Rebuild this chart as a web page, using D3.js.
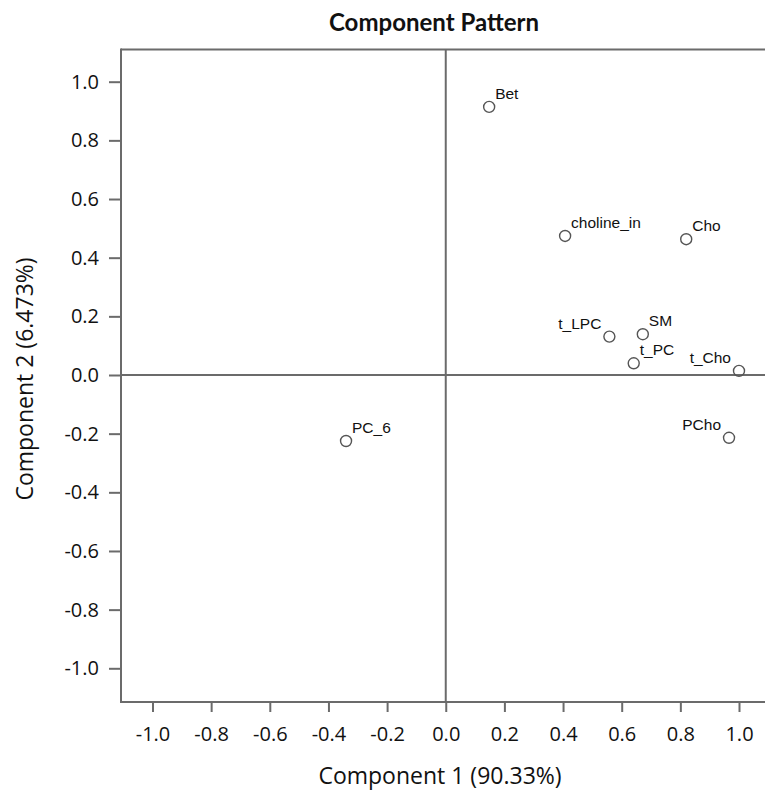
<!DOCTYPE html>
<html><head><meta charset="utf-8">
<script src="https://cdn.jsdelivr.net/npm/d3@7"></script>
<style>body{margin:0;background:#fff}svg{display:block}</style>
</head><body><div id="chart"></div>
<script>
const names = ["Bet","choline_in","Cho","t_LPC","SM","t_PC","t_Cho","PCho","PC_6"];
const comp1 = [0.148,0.407,0.820,0.558,0.672,0.641,1.000,0.966,-0.340];
const comp2 = [0.914,0.474,0.463,0.131,0.139,0.040,0.014,-0.214,-0.225];
const labelSide = ["right","right","right","left","right","right","left","left","right"];
const tickValues = [-1.0,-0.8,-0.6,-0.4,-0.2,0.0,0.2,0.4,0.6,0.8,1.0];

(function(){
const W = 765, H = 792;
const svg = d3.select("#chart").append("svg").attr("width", W).attr("height", H);
const x = d3.scaleLinear().domain([-1, 1]).range([152.5, 739]);
const y = d3.scaleLinear().domain([-1, 1]).range([668.3, 81.7]);
const pLeft = 121, pTop = 49.5, pBottom = 702, pRight = W + 5;
const col = "#6b6b6b";

svg.append("line").attr("x1", pLeft).attr("x2", pRight).attr("y1", pTop).attr("y2", pTop)
  .attr("stroke", col).attr("stroke-width", 2);
svg.append("line").attr("x1", x(0)).attr("x2", x(0)).attr("y1", pTop).attr("y2", pBottom)
  .attr("stroke", col).attr("stroke-width", 2);
svg.append("line").attr("x1", pLeft).attr("x2", pRight).attr("y1", y(0)).attr("y2", y(0))
  .attr("stroke", col).attr("stroke-width", 2);

const fmt = v => d3.format(".1f")(v).replace("\u2212", "-");
const xAxis = svg.append("g").attr("transform", `translate(0,${pBottom})`)
  .call(d3.axisBottom(x).tickValues(tickValues).tickFormat(fmt).tickSize(10).tickSizeOuter(0).tickPadding(15));
const yAxis = svg.append("g").attr("transform", `translate(${pLeft},0)`)
  .call(d3.axisLeft(y).tickValues(tickValues).tickFormat(fmt).tickSize(12).tickSizeOuter(0).tickPadding(10));
[xAxis, yAxis].forEach(g => {
  g.select(".domain").remove();
  g.selectAll(".tick line").attr("stroke", col).attr("stroke-width", 2);
  g.selectAll(".tick text").attr("fill", "#111").style("font-family", "'Open Sans', sans-serif").style("font-size", "20px");
});
svg.append("line").attr("x1", pLeft).attr("x2", pRight).attr("y1", pBottom).attr("y2", pBottom)
  .attr("stroke", col).attr("stroke-width", 2);
svg.append("line").attr("x1", pLeft).attr("x2", pLeft).attr("y1", pTop - 1).attr("y2", pBottom + 1)
  .attr("stroke", col).attr("stroke-width", 2);

svg.append("text").attr("x", 434).attr("y", 31).attr("text-anchor", "middle")
  .style("font-family", "Lato, sans-serif").style("font-weight", "bold").style("font-size", "24px")
  .attr("fill", "#111").text("Component Pattern");
svg.append("text").attr("x", 440).attr("y", 784).attr("text-anchor", "middle")
  .style("font-family", "'Open Sans', sans-serif").style("font-size", "23px")
  .attr("fill", "#111").text("Component 1 (90.33%)");
svg.append("text").attr("transform", "translate(33,379) rotate(-90)").attr("text-anchor", "middle")
  .style("font-family", "'Open Sans', sans-serif").style("font-size", "23px")
  .attr("fill", "#111").text("Component 2 (6.473%)");

const data = names.map((n, i) => ({name: n, c1: comp1[i], c2: comp2[i], side: labelSide[i]}));
const pts = svg.append("g");
pts.selectAll("circle").data(data).join("circle")
  .attr("cx", d => x(d.c1)).attr("cy", d => y(d.c2)).attr("r", 5.5)
  .attr("fill", "none").attr("stroke", "#555").attr("stroke-width", 1.4);
pts.selectAll("text").data(data).join("text")
  .attr("x", d => d.side === "right" ? x(d.c1) + 6 : x(d.c1) - 8)
  .attr("y", d => y(d.c2) - 8)
  .attr("text-anchor", d => d.side === "right" ? "start" : "end")
  .style("font-family", "'Liberation Sans', Arial, sans-serif").style("font-size", "15.5px")
  .attr("fill", "#111").text(d => d.name);
})();
</script></body></html>
